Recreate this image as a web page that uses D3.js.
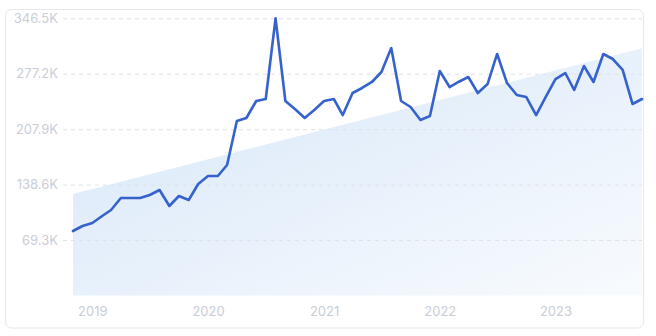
<!DOCTYPE html>
<html>
<head>
<meta charset="utf-8">
<script src="https://cdn.jsdelivr.net/npm/d3@7"></script>
<style>
  html, body { margin: 0; padding: 0; background: #fff; }
  #chart { width: 656px; height: 336px; }
  svg { display: block; font-family: Inter, "Noto Sans", sans-serif; }
</style>
</head>
<body>
<div id="chart"></div>
<script>
// Monthly values, Nov 2018 -> Oct 2023
const startMonth = '2018-11';
const values = [
  80.6, 86.9, 90.6, 99.4, 106.9, 121.9, 121.9, 121.9, 125.6, 131.9,
  111.9, 124.4, 119.4, 139.4, 149.4, 149.4, 163.1, 218.1, 221.9, 243.1,
  245.6, 346.5, 243.1, 233.1, 221.9, 231.9, 243.1, 245.6, 225.6, 253.1,
  259.4, 266.9, 279.4, 309.4, 243.1, 235.6, 219.4, 224.4, 280.6, 260.6,
  266.9, 273.1, 253.1, 264.4, 301.9, 265.6, 250.6, 248.1, 225.6, 248.1,
  270.6, 278.1, 256.9, 286.9, 266.9, 301.9, 295.6, 281.9, 239.4, 245.6
].map(v => v * 1000);

// Trend band (start / end value)
const trendValues = [127000, 309000];

const yTickValues = [69300, 138600, 207900, 277200, 346500];
const yTickLabels = ['69.3K', '138.6K', '207.9K', '277.2K', '346.5K'];
const xTickYears = ['2019', '2020', '2021', '2022', '2023'];

const W = 656, H = 336;
const margin = { left: 73, right: 14, top: 18.3, bottom: 40.5 };

const parseMonth = d3.timeParse('%Y-%m');
const t0 = parseMonth(startMonth);
const dates = values.map((_, i) => d3.timeMonth.offset(t0, i));
const data = values.map((v, i) => ({ date: dates[i], value: v }));

const svg = d3.select('#chart').append('svg')
  .attr('width', W)
  .attr('height', H)
  .attr('viewBox', `0 0 ${W} ${H}`);

// Card
svg.append('rect')
  .attr('x', 5.5).attr('y', 9.5)
  .attr('width', 638).attr('height', 318.5)
  .attr('rx', 6)
  .attr('fill', '#fff')
  .attr('stroke', '#e6e8ec');

const x = d3.scaleTime()
  .domain(d3.extent(dates))
  .range([margin.left, W - margin.right]);

const y = d3.scaleLinear()
  .domain([0, 346500])
  .range([H - margin.bottom, margin.top]);

// Gradient for trend area
const defs = svg.append('defs');
const grad = defs.append('linearGradient')
  .attr('id', 'trendGrad')
  .attr('x1', '0').attr('y1', '0')
  .attr('x2', '1').attr('y2', '1');
grad.append('stop').attr('offset', '0%').attr('stop-color', '#d6e6f8');
grad.append('stop').attr('offset', '100%').attr('stop-color', '#f8fbfe');

const trendData = [
  { date: dates[0], value: trendValues[0] },
  { date: dates[dates.length - 1], value: trendValues[1] }
];

svg.append('path')
  .datum(trendData)
  .attr('fill', 'url(#trendGrad)')
  .attr('d', d3.area()
    .x(d => x(d.date))
    .y0(y(0))
    .y1(d => y(d.value)));

// Y grid + labels
const yAxis = svg.append('g')
  .attr('transform', `translate(${margin.left},0)`)
  .call(d3.axisLeft(y)
    .tickValues(yTickValues)
    .tickSize(10)
    .tickFormat((d, i) => yTickLabels[i]));
yAxis.select('.domain').remove();
yAxis.selectAll('.tick line')
  .attr('x1', -10)
  .attr('x2', W - margin.right - margin.left)
  .attr('stroke', '#dfe2e7')
  .attr('stroke-dasharray', '4,4');
yAxis.selectAll('.tick text')
  .attr('x', -15)
  .attr('fill', '#c9cdd8')
  .attr('font-size', 13)
  .attr('font-family', 'Inter, "Noto Sans", sans-serif');

// X labels
const xAxis = svg.append('g')
  .attr('transform', `translate(0,${H - margin.bottom})`)
  .call(d3.axisBottom(x)
    .tickValues(xTickYears.map(s => d3.timeParse('%Y')(s)))
    .tickSize(0)
    .tickFormat(d3.timeFormat('%Y')));
xAxis.select('.domain').remove();
xAxis.selectAll('.tick text')
  .attr('y', 11)
  .attr('fill', '#c9cdd8')
  .attr('font-size', 13)
  .attr('font-family', 'Inter, "Noto Sans", sans-serif');

// Line
svg.append('path')
  .datum(data)
  .attr('fill', 'none')
  .attr('stroke', '#3562cc')
  .attr('stroke-width', 2.6)
  .attr('stroke-linejoin', 'round')
  .attr('stroke-linecap', 'round')
  .attr('d', d3.line()
    .x(d => x(d.date))
    .y(d => y(d.value)));
</script>
</body>
</html>
